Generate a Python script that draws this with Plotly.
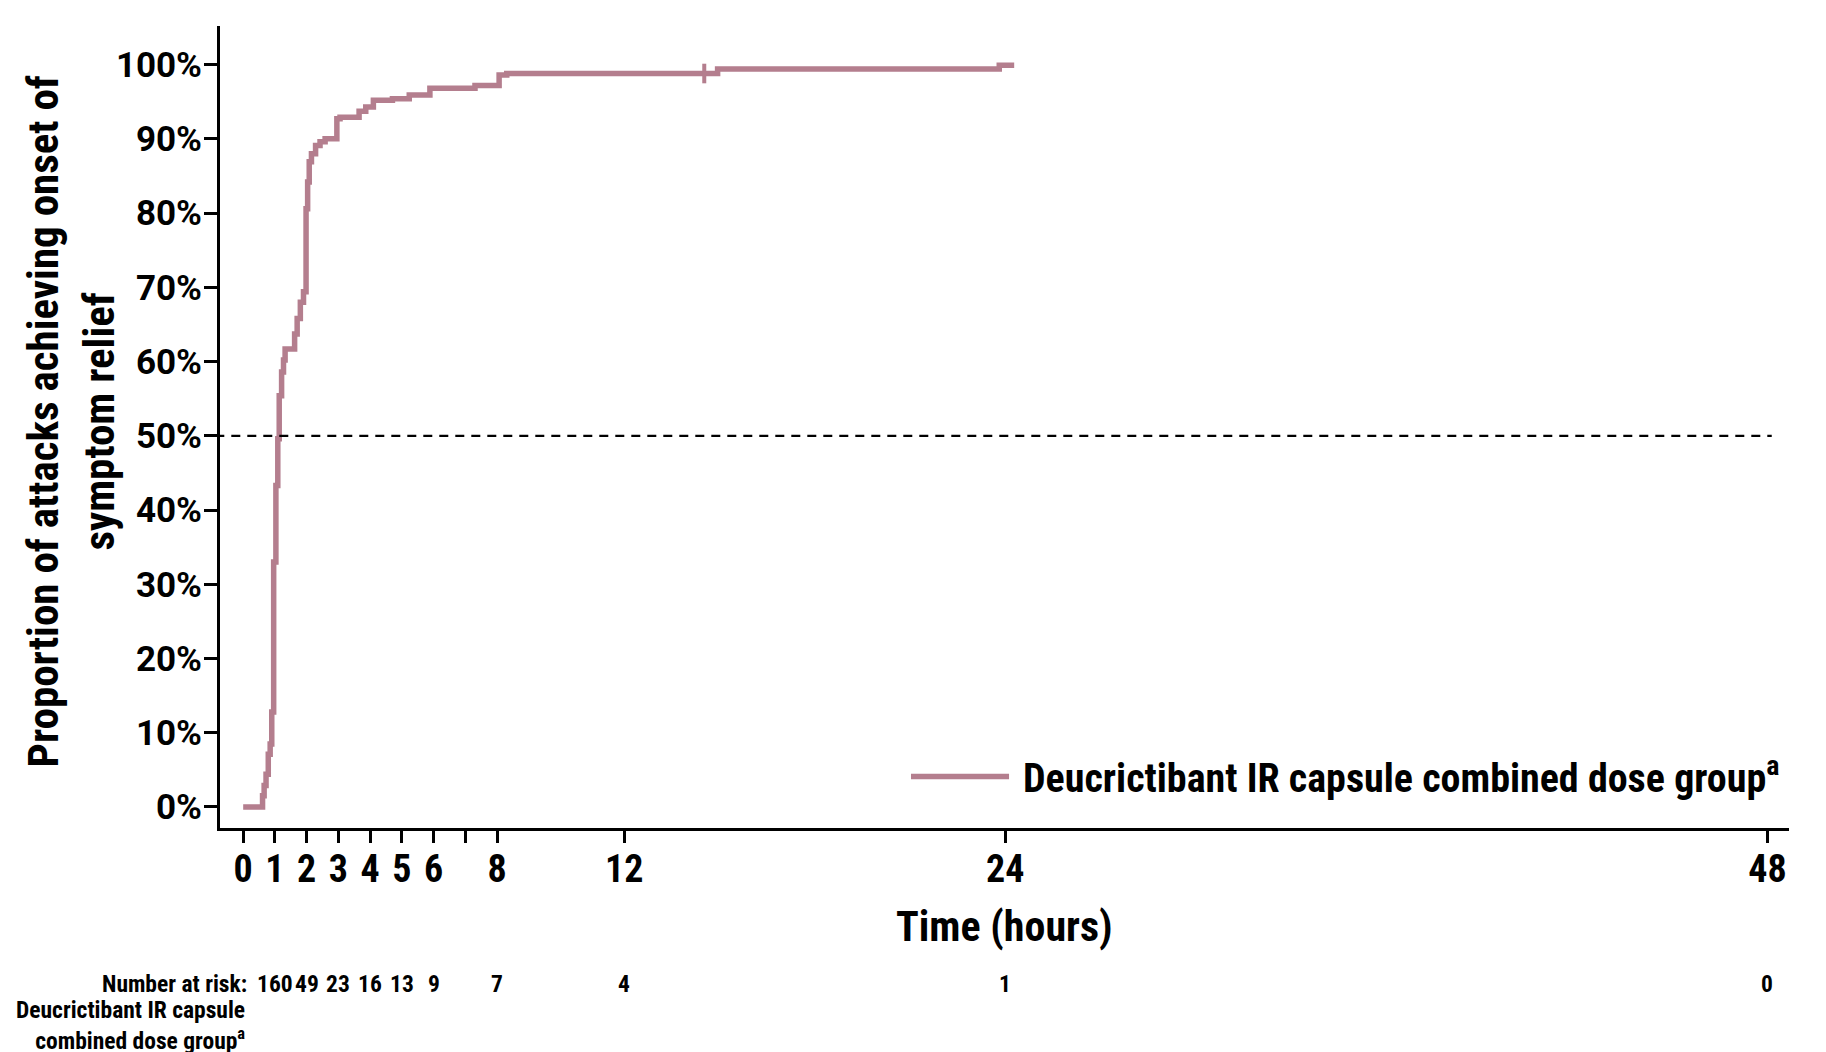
import plotly.graph_objects as go

# ---- data ----
time_h = [0, 0.61, 0.66, 0.72, 0.79, 0.85, 0.90, 0.96, 1.03, 1.09, 1.135, 1.21, 1.27, 1.32,
          1.62, 1.70, 1.80, 1.90, 1.98, 2.03, 2.08, 2.15, 2.28, 2.42, 2.58, 2.95, 3.05,
          3.65, 3.86, 4.10, 4.70, 5.23, 5.88, 7.30, 8.06, 8.30, 14.94, 23.81, 24.28]
prop_pct = [0, 1.5, 2.9, 4.4, 7.1, 8.5, 12.8, 33.0, 43.3, 49.6, 55.4, 58.6, 60.2, 61.7,
            63.7, 65.8, 68.0, 69.4, 80.6, 84.2, 86.9, 88.0, 89.1, 89.6, 90.0, 92.7, 92.9,
            93.7, 94.3, 95.2, 95.4, 95.9, 96.8, 97.2, 98.6, 98.8, 99.4, 99.9, 99.9]
censor_t = [14.52]
censor_pct = [98.8]

x_tickvals = [0, 1, 2, 3, 4, 5, 6, 7, 8, 12, 24, 48]
x_ticktext = ["0", "1", "2", "3", "4", "5", "6", "", "8", "12", "24", "48"]
y_tickvals = [0, 10, 20, 30, 40, 50, 60, 70, 80, 90, 100]
y_ticktext = ["0%", "10%", "20%", "30%", "40%", "50%", "60%", "70%", "80%", "90%", "100%"]

risk_t = [1, 2, 3, 4, 5, 6, 8, 12, 24, 48]
risk_n = [160, 49, 23, 16, 13, 9, 7, 4, 1, 0]

series_name = "Deucrictibant IR capsule combined dose group<sup>a</sup>"
COLOR = "#B47E8E"
COND = "'Roboto Condensed', 'Noto Sans Condensed', 'DejaVu Sans Condensed', 'Liberation Sans Narrow', Roboto, sans-serif"

fig = go.Figure()
fig.add_trace(go.Scatter(x=time_h, y=prop_pct, mode="lines", line=dict(shape="hv", color=COLOR, width=5.5),
                         name=series_name, showlegend=False))
fig.add_trace(go.Scatter(x=censor_t, y=censor_pct, mode="markers",
                         marker=dict(symbol="line-ns", size=14, line=dict(color=COLOR, width=4)),
                         showlegend=False))

# 50% reference line
fig.add_shape(type="line", xref="paper", yref="y", x0=-0.003, x1=0.989, y0=50, y1=50,
              line=dict(color="black", width=2.3, dash="9px,7px"))

# legend (drawn manually)
fig.add_shape(type="line", xref="paper", yref="paper", x0=0.4404, x1=0.5029, y0=0.0642, y1=0.0642,
              line=dict(color=COLOR, width=5.5))
fig.add_annotation(xref="paper", yref="paper", x=0.5105, y=0.066, xanchor="left", yanchor="middle",
                   text=series_name, showarrow=False,
                   font=dict(family=COND, size=40, color="black", weight="bold"))

# axis titles
fig.add_annotation(xref="paper", yref="paper", x=0.5, y=-0.1234, xanchor="center", yanchor="middle",
                   text="Time (hours)", showarrow=False,
                   font=dict(family=COND, size=42, color="black", weight="bold"))
fig.add_annotation(xref="paper", yref="paper", x=-0.0947, y=0.5075, xanchor="center", yanchor="middle",
                   text="Proportion of attacks achieving onset of<br>symptom relief", showarrow=False,
                   textangle=-90,
                   font=dict(family=COND, size=43, color="black", weight="bold"))

# number at risk
fig.add_annotation(xref="paper", yref="paper", x=0.0185, y=-0.194, xanchor="right", yanchor="middle",
                   text="Number at risk:", showarrow=False,
                   font=dict(family=COND, size=23.5, color="black", weight="bold"))
fig.add_annotation(xref="paper", yref="paper", x=0.0175, y=-0.246, xanchor="right", yanchor="middle",
                   align="right",
                   text="Deucrictibant IR capsule<br>combined dose group<sup>a</sup>", showarrow=False,
                   font=dict(family=COND, size=23.5, color="black", weight="bold"))
for t, n in zip(risk_t, risk_n):
    fig.add_annotation(xref="x", yref="paper", x=t, y=-0.194, xanchor="center", yanchor="middle",
                       text=str(n), showarrow=False,
                       font=dict(family=COND, size=23.5, color="black", weight="bold"))

fig.update_layout(
    width=1826, height=1052,
    margin=dict(l=212, r=45, t=18, b=232),
    paper_bgcolor="white", plot_bgcolor="white",
    showlegend=False,
)
fig.update_xaxes(range=[-0.73, 48.68], tickvals=x_tickvals, ticktext=x_ticktext,
                 showgrid=False, zeroline=False, showline=True, linecolor="black", linewidth=3,
                 ticks="outside", ticklen=12, tickwidth=2.5, tickcolor="black", ticklabelstandoff=-7,
                 tickfont=dict(family=COND, size=38, color="black", weight="bold"))
fig.update_yaxes(range=[-2.83, 105.2], tickvals=y_tickvals, ticktext=y_ticktext,
                 showgrid=False, zeroline=False, showline=True, linecolor="black", linewidth=3,
                 ticks="outside", ticklen=13, tickwidth=2.5, tickcolor="black", ticklabelstandoff=-5,
                 tickfont=dict(family="Roboto", size=35, color="black", weight="bold"))

fig.write_html("out.html")
